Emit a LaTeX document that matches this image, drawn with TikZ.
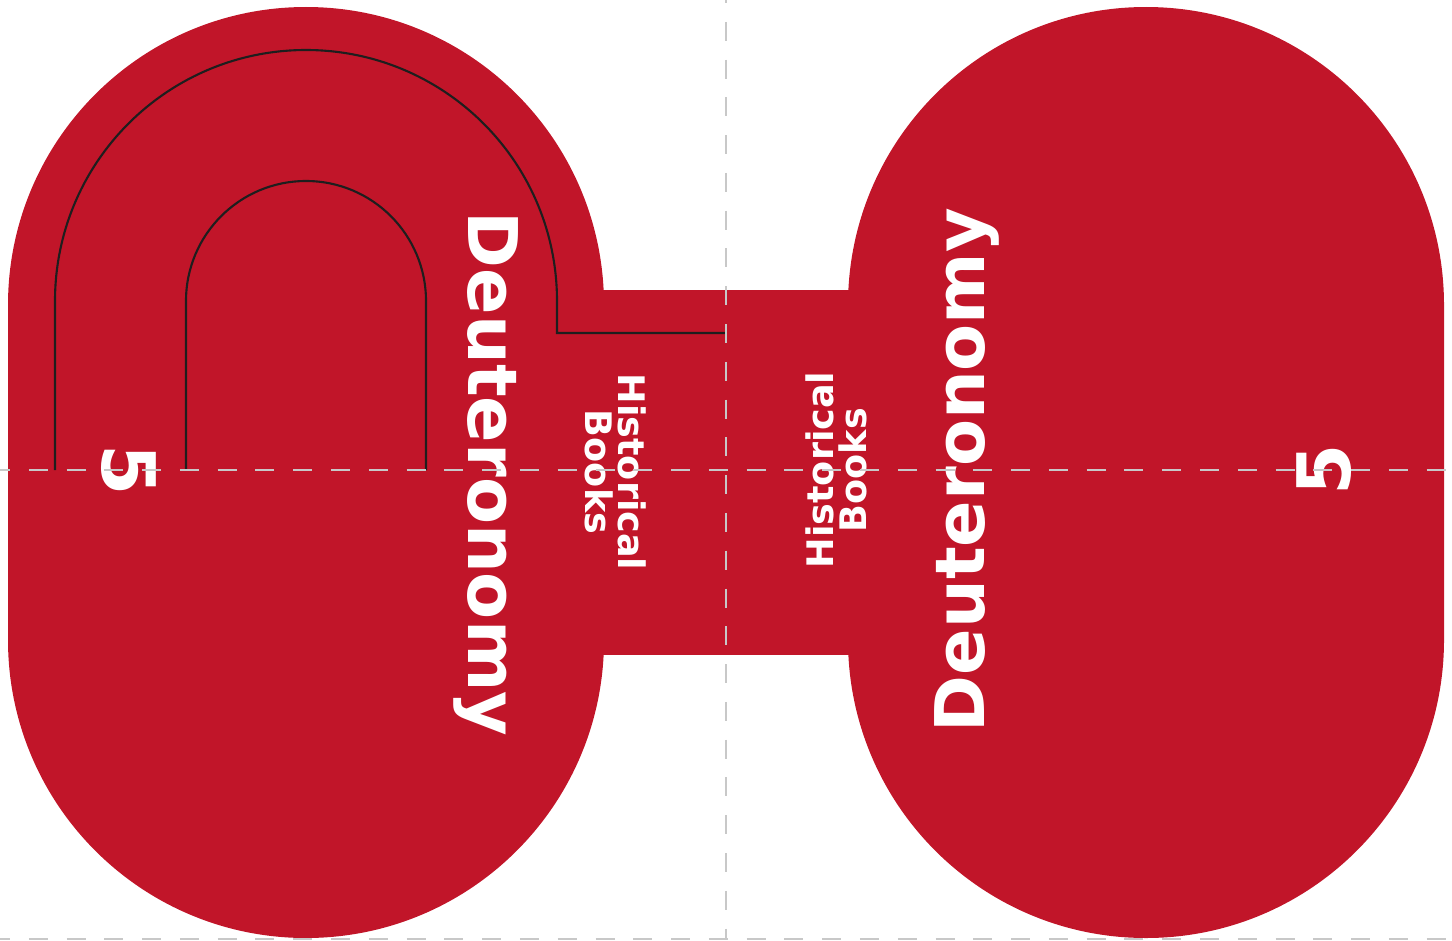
\documentclass[tikz,border=0pt]{standalone}
\usepackage{fontspec}
\setmainfont{DejaVu Sans}
\usepackage{tikz}
\usetikzlibrary{calc}
\definecolor{tab_red}{RGB}{193, 21, 41}
\definecolor{fold_grey}{RGB}{200, 200, 200}
\definecolor{cut_black}{RGB}{30, 30, 30}
\tikzstyle{tab}=[fill=tab_red,draw=none]
\tikzstyle{cut}=[draw=cut_black,line width=0.6pt]
\tikzstyle{fold}=[draw=fold_grey,line width=0.57pt,dash pattern=on 5.4pt off 5.35pt]
\tikzstyle{bigname}=[text=white,inner sep=0pt,anchor=base,
  font=\bfseries\fontsize{19.5}{20}\selectfont]
\tikzstyle{bignum}=[text=white,inner sep=0pt,anchor=base,
  font=\bfseries\fontsize{21}{21}\selectfont]
\tikzstyle{section}=[text=white,inner sep=0pt,align=center,
  font=\bfseries\fontsize{10.4}{9.4}\selectfont]

\begin{document}
\begin{tikzpicture}
            \useasboundingbox (0, 0) rectangle (14.52, 9.40);
            % red tab
            \fill [style=tab] (0.08, 3.00) -- (0.08, 6.35) arc (180:0:2.98) -- (6.04, 3.00) arc (0:-180:2.98) -- cycle;
            \fill [style=tab] (8.48, 3.00) -- (8.48, 6.35) arc (180:0:2.98) -- (14.44, 3.00) arc (0:-180:2.98) -- cycle;
            \fill [style=tab] (6.00, 2.85) rectangle (8.52, 6.50);
            % cut lines
            \draw [style=cut] (0.55, 4.70) -- (0.55, 6.39) arc (180:0:2.51) -- (5.57, 6.07) -- (7.26, 6.07);
            \draw [style=cut] (1.86, 4.70) -- (1.86, 6.39) arc (180:0:1.20) -- (4.26, 4.70);
            % labels
            \node [style=bigname, rotate=-90] (0) at (4.68, 4.66) {Deuteronomy};
            \node [style=bigname, rotate=90] (1) at (9.84, 4.70) {Deuteronomy};
            \node [style=bignum, rotate=-90] (2) at (1.02, 4.70) {5};
            \node [style=bignum, rotate=90] (3) at (13.50, 4.70) {5};
            \node [style=section, rotate=-90] (4) at (6.16, 4.68) {Historical\\Books};
            \node [style=section, rotate=90] (5) at (8.36, 4.70) {Historical\\Books};
            % fold lines
            \draw [style=fold, dash phase=2.56pt] (0, 4.70) -- (14.52, 4.70);
            \draw [style=fold, dash phase=2.56pt] (0, 0.01) -- (14.52, 0.01);
            \draw [style=fold, dash phase=4.55pt] (7.26, 9.40) -- (7.26, 0);
    \end{tikzpicture}
\end{document}
